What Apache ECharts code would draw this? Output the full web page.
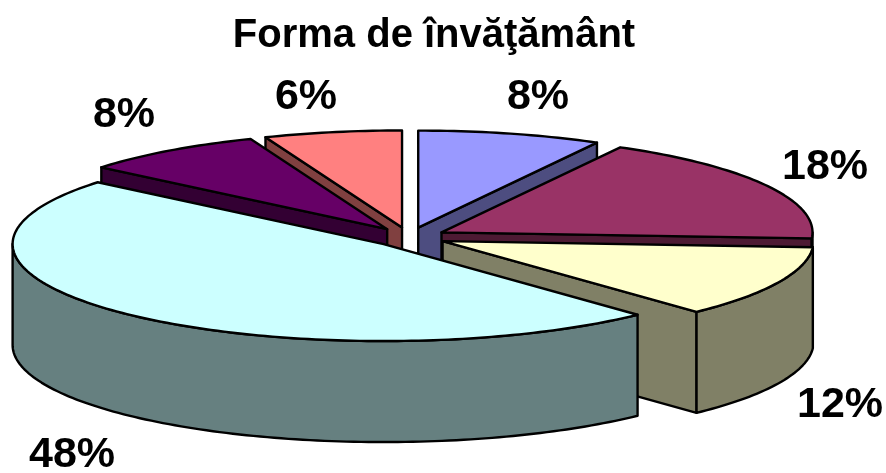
<!DOCTYPE html>
<html><head><meta charset="utf-8">
<style>html,body{margin:0;padding:0;background:#fff}#c{width:886px;height:473px}</style>
<script src="https://cdn.jsdelivr.net/npm/echarts@6/dist/echarts.min.js"></script>
</head><body><div id="c"></div>
<script>
// data, clockwise from 12 o'clock
var categories = ['A', 'B', 'C', 'D', 'E', 'F'];
var values = [8, 18, 12, 48, 8, 6];
var labels = ['8%', '18%', '12%', '48%', '8%', '6%'];
var title = 'Forma de învăţământ';
// styles
var topColors = ['#9999FF', '#993366', '#FFFFCC', '#CCFFFF', '#660066', '#FF8080'];
var wallColors = ['#4D4D80', '#4D1A33', '#808066', '#668080', '#330033', '#804040'];
var labelPos = [[538, 97], [825, 167], [840, 405], [72, 455], [124, 115], [306, 97]];
var drawOrder = [0, 5, 4, 1, 2, 3];
// layout of the pie
var CX = 409, CY = 237, RX = 371, RY = 97, DEPTH = 101, EXPLODE = 0.1;

var total = values.reduce(function (a, b) { return a + b; }, 0);
var starts = [], acc = 0;
values.forEach(function (v) { starts.push(acc / total * 2 * Math.PI); acc += v; });

function rim(ax, ay, t) { return [ax + RX * Math.sin(t), ay - RY * Math.cos(t)]; }
function arc(ax, ay, t0, t1) {
  var n = Math.max(2, Math.ceil((t1 - t0) / 0.02)), out = [];
  for (var i = 0; i <= n; i++) out.push(rim(ax, ay, t0 + (t1 - t0) * i / n));
  return out;
}
function down(p) { return [p[0], p[1] + DEPTH]; }
function face(points, fill) {
  return { type: 'polygon', shape: { points: points },
    style: { fill: fill, stroke: '#000', lineWidth: 2.4, lineJoin: 'round' } };
}
function renderItem(params, api) {
  var i = api.value(0), v = api.value(1);
  var t0 = starts[i], t1 = t0 + v / total * 2 * Math.PI, m = (t0 + t1) / 2;
  var ax = CX + EXPLODE * RX * Math.sin(m), ay = CY - EXPLODE * RY * Math.cos(m);
  var apex = [ax, ay], kids = [];
  var wall = wallColors[i];
  // cut faces, only those turned towards the viewer
  if (Math.sin(t0) < -1e-6) kids.push(face([apex, rim(ax, ay, t0), down(rim(ax, ay, t0)), down(apex)], wall));
  if (Math.sin(t1) > 1e-6) kids.push(face([apex, rim(ax, ay, t1), down(rim(ax, ay, t1)), down(apex)], wall));
  // outer wall, only the part facing the viewer
  var a = Math.max(t0, Math.PI / 2), b = Math.min(t1, 3 * Math.PI / 2);
  if (b > a) {
    var top = arc(ax, ay, a, b);
    kids.push(face(top.concat(top.slice().reverse().map(down)), wall));
  }
  // top face
  kids.push(face([apex].concat(arc(ax, ay, t0, t1)), topColors[i]));
  return { type: 'group', children: kids };
}
var chart = echarts.init(document.getElementById('c'), null, { renderer: 'canvas' });
var font = 'bold 43px "Liberation Sans", Arial, sans-serif';
chart.setOption({
  animation: false,
  backgroundColor: '#fff',
  title: { text: title, left: 433, top: 11, textAlign: 'center',
    textStyle: { fontFamily: '"Liberation Sans", Arial, sans-serif', fontWeight: 'bold', fontSize: 40, color: '#000' } },
  series: [{
    type: 'custom', coordinateSystem: 'none', renderItem: renderItem,
    data: drawOrder.map(function (i) { return [i, values[i], categories[i]]; })
  }],
  graphic: labels.map(function (t, i) {
    return { type: 'text', x: labelPos[i][0], y: labelPos[i][1], z: 10,
      style: { text: t, font: font, fill: '#000', align: 'center', verticalAlign: 'middle' } };
  }).concat([])
});
chart.setOption({ title: { left: 429 } });
</script></body></html>
